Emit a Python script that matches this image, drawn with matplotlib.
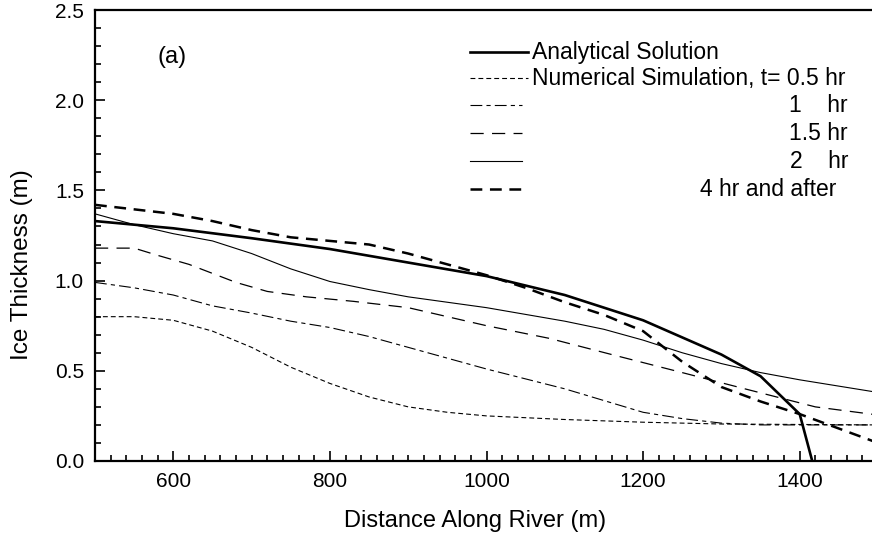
import matplotlib
matplotlib.use("Agg")
from matplotlib import pyplot as plt
from matplotlib.lines import Line2D
from matplotlib.ticker import MultipleLocator

plt.rcParams['font.family'] = ['Liberation Sans', 'DejaVu Sans']
plt.rcParams['lines.scale_dashes'] = False

# analytical solution
x_an = [500, 600, 700, 800, 900, 1000, 1100, 1200, 1300, 1350, 1400, 1416]
h_an = [1.33, 1.29, 1.235, 1.175, 1.10, 1.025, 0.92, 0.78, 0.59, 0.47, 0.26, 0.0]

# numerical simulation, t = 0.5 hr
x_05 = [500, 550, 600, 650, 700, 750, 800, 850, 900, 950, 1000, 1100, 1200, 1250, 1300, 1500]
h_05 = [0.80, 0.80, 0.78, 0.72, 0.63, 0.52, 0.43, 0.355, 0.30, 0.27, 0.25, 0.23, 0.215, 0.21, 0.205, 0.20]

# t = 1 hr
x_1 = [500, 550, 600, 650, 700, 750, 800, 850, 900, 950, 1000, 1050, 1100, 1150, 1200, 1250, 1300, 1350, 1500]
h_1 = [0.99, 0.96, 0.92, 0.86, 0.82, 0.775, 0.74, 0.69, 0.63, 0.57, 0.51, 0.455, 0.40, 0.335, 0.27, 0.235, 0.21, 0.20, 0.20]

# t = 1.5 hr
x_15 = [500, 550, 580, 620, 650, 680, 720, 770, 830, 900, 1000, 1080, 1160, 1250, 1330, 1420, 1500]
h_15 = [1.18, 1.18, 1.14, 1.09, 1.04, 0.99, 0.94, 0.91, 0.885, 0.85, 0.75, 0.68, 0.59, 0.49, 0.40, 0.30, 0.255]

# t = 2 hr
x_2 = [500, 550, 600, 650, 700, 750, 800, 850, 900, 1000, 1100, 1150, 1200, 1250, 1300, 1350, 1400, 1500]
h_2 = [1.37, 1.31, 1.26, 1.22, 1.15, 1.065, 0.995, 0.95, 0.91, 0.85, 0.775, 0.73, 0.67, 0.60, 0.54, 0.49, 0.45, 0.38]

# t = 4 hr and after
x_4 = [500, 600, 650, 700, 750, 800, 850, 900, 950, 1000, 1050, 1100, 1150, 1200, 1250, 1300, 1350, 1400, 1450, 1500]
h_4 = [1.42, 1.37, 1.33, 1.28, 1.24, 1.22, 1.20, 1.15, 1.09, 1.03, 0.96, 0.88, 0.81, 0.72, 0.55, 0.41, 0.33, 0.26, 0.18, 0.10]

styles = {
    'an': dict(color='black', lw=1.9, linestyle='-'),
    '05': dict(color='black', lw=0.8, linestyle=(0, (3.5, 2.2))),
    '1': dict(color='black', lw=0.8, linestyle=(0, (8.5, 3, 3, 3))),
    '15': dict(color='black', lw=0.9, linestyle=(0, (9.5, 6))),
    '2': dict(color='black', lw=0.8, linestyle='-'),
    '4': dict(color='black', lw=1.8, linestyle=(0, (8.5, 5.5))),
}

W, H = 872, 543
fig = plt.figure(figsize=(W / 100, H / 100), dpi=100)
ax = fig.add_axes([95 / W, 82 / H, (878 - 95) / W, (461 - 10) / H])

ax.plot(x_05, h_05, **styles['05'])
ax.plot(x_1, h_1, **styles['1'])
ax.plot(x_15, h_15, **styles['15'])
ax.plot(x_2, h_2, **styles['2'])
ax.plot(x_4, h_4, **styles['4'])
ax.plot(x_an, h_an, **styles['an'])

ax.set_xlim(500, 1500)
ax.set_ylim(0, 2.5)
ax.xaxis.set_major_locator(MultipleLocator(200))
ax.xaxis.set_minor_locator(MultipleLocator(20))
ax.yaxis.set_major_locator(MultipleLocator(0.5))
ax.yaxis.set_minor_locator(MultipleLocator(0.1))
ax.yaxis.set_major_formatter(matplotlib.ticker.FormatStrFormatter('%.1f'))
ax.tick_params(which='both', direction='in', width=1.2, labelsize=15, top=False, right=False)
ax.tick_params(which='major', length=7, pad=8)
ax.tick_params(which='minor', length=4)
for s in ['left', 'bottom', 'top']:
    ax.spines[s].set_linewidth(1.6)
ax.spines['right'].set_visible(False)

ax.set_xlabel('Distance Along River (m)', fontsize=17)
ax.set_ylabel('Ice Thickness (m)', fontsize=17.5)
# label positions in axes fraction
ax.xaxis.set_label_coords((475 - 95) / (878 - 95), -(521 - 461) / (461 - 10), transform=ax.transAxes)
ax.xaxis.label.set_va('center')
ax.yaxis.set_label_coords(-(95 - 22) / (878 - 95), (461 - 265) / (461 - 10), transform=ax.transAxes)
ax.yaxis.label.set_va('center')

fig.text(172 / W, 1 - 57 / H, '(a)', fontsize=17, ha='center', va='center')

# legend drawn by hand
rows = [
    ('an', 'Analytical Solution', 532, 'left', 52, 528),
    ('05', 'Numerical Simulation, t= 0.5 hr', 532, 'left', 78, 528),
    ('1', '1    hr', 848, 'right', 105, 522),
    ('15', '1.5 hr', 848, 'right', 133, 522),
    ('2', '2    hr', 848, 'right', 161, 522),
    ('4', '4 hr and after', 700, 'left', 189, 522),
]
for key, label, tx, ha, ty, xend in rows:
    st = dict(styles[key])
    fig.add_artist(Line2D([470 / W, xend / W], [1 - ty / H, 1 - ty / H],
                          transform=fig.transFigure, **st))
    fig.text(tx / W, 1 - ty / H, label, fontsize=16.5, ha=ha, va='center')

fig.savefig('out.png', dpi=100)
